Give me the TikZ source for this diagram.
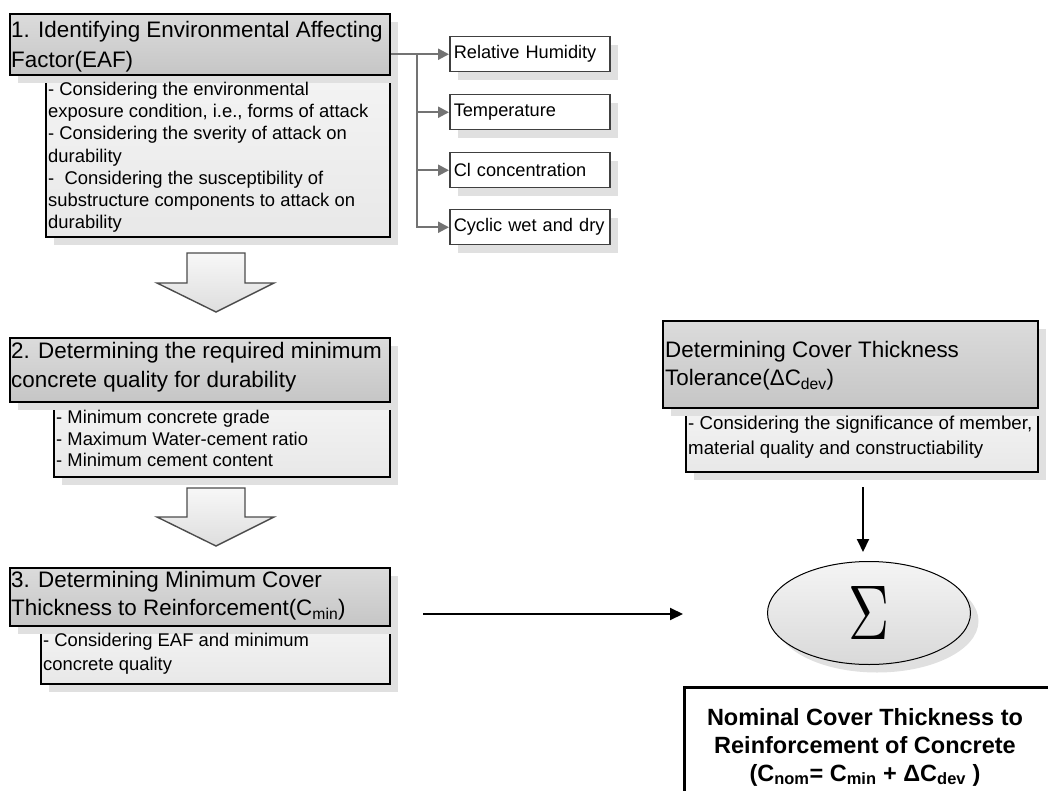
\documentclass[tikz,border=0pt]{standalone}
\usepackage{fontspec}
\setmainfont{Liberation Sans}
\usepackage{graphicx}
\usetikzlibrary{shadows,arrows.meta,calc,shapes.geometric}

\begin{document}
\begin{tikzpicture}[x=1pt,y=-1pt,
  shad/.style={drop shadow={shadow xshift=8pt,shadow yshift=-8pt,fill=black!12,opacity=1}},
  hdrbox/.style={draw=black,line width=2.2pt,top color=gray!28,bottom color=gray!45,
    anchor=north west,inner sep=0pt,shad},
  detbox/.style={draw=black,line width=1.8pt,top color=gray!9,bottom color=gray!18,
    anchor=north west,inner sep=0pt,shad},
  hdrtxt/.style={anchor=north west,inner sep=0pt,align=left},
  dettxt/.style={anchor=north west,inner sep=0pt,align=left},
  itembox/.style={draw=black!75,line width=1.5pt,fill=white,anchor=north west,
    text width=152pt,inner xsep=4pt,inner ysep=0pt,minimum height=35pt,align=left,
    font=\fontsize{18.2}{22}\selectfont,shad},
  branch/.style={draw=black!55,line width=2.2pt,-{Triangle[length=11pt,width=11pt]}},
  blockarrow/.style={draw=black!70,line width=1.4pt,top color=gray!6,bottom color=gray!26},
  arr/.style={draw=black,line width=2pt,-{Triangle[length=13pt,width=12pt]}}
]
\useasboundingbox (0,0) rectangle (1048,791);

% ---------- Box 1 ----------
\node[detbox,minimum width=344pt,minimum height=162pt] (d1) at (45,74) {};
\node[hdrbox,minimum width=380pt,minimum height=61pt] (h1) at (9,13) {};
\node[hdrtxt,font=\fontsize{22.4}{30}\selectfont] (h1t) at (11,21)
  {1. Identifying Environmental Affecting\\Factor(EAF)};
\node[dettxt,font=\fontsize{18.4}{22.2}\selectfont] (d1t) at (48,82)
  {- Considering the environmental\\exposure condition, i.e., forms of attack\\- Considering the sverity of attack on\\durability\\-\ \ Considering the susceptibility of\\substructure components to attack on\\durability};

% ---------- items ----------
\node[itembox] (i1) at (449,36) {Relative Humidity};
\node[itembox] (i2) at (449,94) {Temperature};
\node[itembox] (i3) at (449,152) {Cl concentration};
\node[itembox] (i4) at (449,209) {Cyclic wet and dry};
\coordinate (bus) at (417,53);
\draw[draw=black!55,line width=2.2pt] (h1.east |- i1.west) -- (bus |- i1.west);
\draw[branch] (bus |- i1.west) -- (i1.west);
\draw[branch] (bus |- i1.west) -- (bus |- i4.west) -- (i4.west);
\draw[branch] (bus |- i2.west) -- (i2.west);
\draw[branch] (bus |- i3.west) -- (i3.west);

% ---------- block arrow 1 ----------
\draw[blockarrow] (187,253) -- (245,253) -- (245,283) -- (274,283) -- (216,312)
  -- (157,283) -- (187,283) -- cycle;

% ---------- Box 2 ----------
\node[detbox,minimum width=336pt,minimum height=75pt] (d2) at (53,401) {};
\node[hdrbox,minimum width=380pt,minimum height=64pt] (h2) at (9,337) {};
\node[hdrtxt,font=\fontsize{22.4}{29}\selectfont] (h2t) at (11,342)
  {2. Determining the required minimum\\concrete quality for durability};
\node[dettxt,font=\fontsize{18.4}{21.5}\selectfont] (d2t) at (56,410)
  {- Minimum concrete grade\\- Maximum Water-cement ratio\\- Minimum cement content};

% ---------- block arrow 2 ----------
\draw[blockarrow] (187,488) -- (245,488) -- (245,517) -- (274,517) -- (216,546)
  -- (157,517) -- (187,517) -- cycle;

% ---------- Box 3 ----------
\node[detbox,minimum width=349pt,minimum height=58pt] (d3) at (40,625) {};
\node[hdrbox,minimum width=380pt,minimum height=58pt] (h3) at (9,567) {};
\node[hdrtxt,font=\fontsize{22.4}{28}\selectfont] (h3t) at (11,571)
  {3. Determining Minimum Cover\\Thickness to Reinforcement(C\textsubscript{min})};
\node[dettxt,font=\fontsize{18.4}{24}\selectfont] (d3t) at (43,633)
  {- Considering EAF and minimum\\concrete quality};

% ---------- right box ----------
\node[detbox,minimum width=352pt,minimum height=64pt] (rd) at (685,407) {};
\node[hdrbox,minimum width=375pt,minimum height=87pt] (rh) at (662,320) {};
\node[hdrtxt,font=\fontsize{22.4}{28}\selectfont] (rht) at (665,341)
  {Determining Cover Thickness\\Tolerance(ΔC\textsubscript{dev})};
\node[dettxt,font=\fontsize{18.7}{25}\selectfont] (rdt) at (688,416)
  {- Considering the significance of member,\\material quality and constructiability};

% ---------- sigma ----------
\node[ellipse,draw=black,line width=1pt,top color=gray!8,bottom color=gray!30,
  minimum width=203pt,minimum height=103pt,inner sep=0pt,shad] (sig) at (869,613)
  {\resizebox{41pt}{53pt}{$\Sigma$}};

% ---------- arrows ----------
\coordinate (a1) at (423,614);
\coordinate (a2) at (683,614);
\draw[arr] (a1) -- (a2);
\coordinate (b1) at (863,487);
\coordinate (b2) at (863,552);
\draw[arr] (b1) -- (b2);

% ---------- final box ----------
\node[draw=black,line width=3pt,fill=white,anchor=north west,inner sep=0pt,
  minimum width=400pt,minimum height=140pt] (fin) at (683,686) {};
\node[align=center,inner sep=0pt,font=\bfseries\fontsize{23.5}{28}\selectfont] (fint) at (865,747)
  {Nominal Cover Thickness to\\Reinforcement of Concrete\\(C\textsubscript{nom}= C\textsubscript{min} + ΔC\textsubscript{dev} )};
\end{tikzpicture}
\end{document}
